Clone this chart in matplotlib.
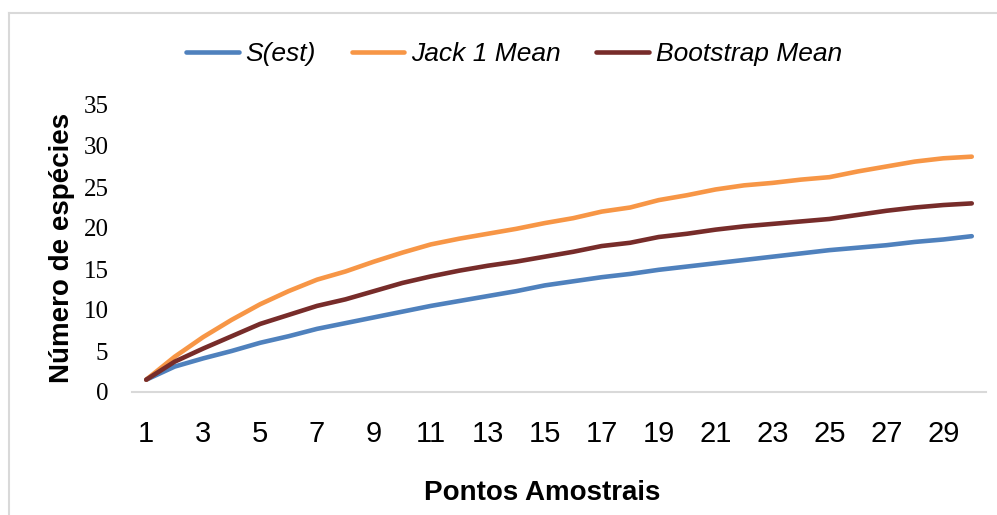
import matplotlib
matplotlib.use("Agg")
import matplotlib.pyplot as plt
from matplotlib.lines import Line2D

# pontos amostrais 1..30
pontos = list(range(1, 31))
s_est = [1.5, 3.1, 4.1, 5.0, 6.0, 6.8, 7.7, 8.4, 9.1, 9.8, 10.5, 11.1, 11.7, 12.3, 13.0,
         13.5, 14.0, 14.4, 14.9, 15.3, 15.7, 16.1, 16.5, 16.9, 17.3, 17.6, 17.9, 18.3, 18.6, 19.0]
jack1 = [1.5, 4.3, 6.7, 8.8, 10.7, 12.3, 13.7, 14.7, 15.9, 17.0, 18.0, 18.7, 19.3, 19.9, 20.6,
         21.2, 22.0, 22.5, 23.4, 24.0, 24.7, 25.2, 25.5, 25.9, 26.2, 26.9, 27.5, 28.1, 28.5, 28.7]
boot = [1.5, 3.7, 5.3, 6.8, 8.3, 9.4, 10.5, 11.3, 12.3, 13.3, 14.1, 14.8, 15.4, 15.9, 16.5,
        17.1, 17.8, 18.2, 18.9, 19.3, 19.8, 20.2, 20.5, 20.8, 21.1, 21.6, 22.1, 22.5, 22.8, 23.0]
yticks = [0, 5, 10, 15, 20, 25, 30, 35]

W, H = 997, 515
fig = plt.figure(figsize=(W / 100, H / 100), dpi=100)
ax = fig.add_axes([132 / W, (H - 392) / H, 854 / W, (392 - 105) / H])

lw = 3.3
ax.plot(pontos, s_est, color="#4F81BD", lw=lw, solid_capstyle="round", label="S(est)")
ax.plot(pontos, jack1, color="#F79646", lw=lw, solid_capstyle="round", label="Jack 1 Mean")
ax.plot(pontos, boot, color="#772C2A", lw=lw, solid_capstyle="round", label="Bootstrap Mean")

ax.set_xlim(0.5, 30.5)
ax.set_ylim(0, 35)
ax.set_xticks(pontos[::2])
ax.set_xticklabels([str(p) for p in pontos[::2]], fontfamily="Liberation Sans", fontsize=21)
ax.set_yticks(yticks)
ax.set_yticklabels([str(v) for v in yticks], fontfamily="Liberation Serif", fontsize=18)
ax.tick_params(axis="both", length=0)
ax.tick_params(axis="y", pad=17)
ax.tick_params(axis="x", pad=20)

for s in ["top", "right", "left"]:
    ax.spines[s].set_visible(False)
ax.spines["bottom"].set_color("#D9D9D9")
ax.spines["bottom"].set_linewidth(1.5)

fig.text(62 / W, 1 - 248 / H, "Número de espécies", rotation=90, ha="center", va="center",
         fontfamily="Liberation Sans", fontweight="bold", fontsize=20)
fig.text(542 / W, 1 - 493 / H, "Pontos Amostrais", ha="center", va="center",
         fontfamily="Liberation Sans", fontweight="bold", fontsize=20)

leg = fig.legend(loc="center", bbox_to_anchor=(514 / W, 1 - 54 / H), ncol=3, frameon=False,
                 prop={"family": "Liberation Sans", "style": "italic", "size": 19},
                 handlelength=2.0, handletextpad=0.25, columnspacing=1.35)

# chart border (left and top)
fig.add_artist(Line2D([9 / W, 9 / W], [0, 1 - 13 / H], color="#D9D9D9", lw=1.5))
fig.add_artist(Line2D([9 / W, 1], [1 - 13 / H, 1 - 13 / H], color="#D9D9D9", lw=1.5))

fig.savefig("out.png", dpi=100)
